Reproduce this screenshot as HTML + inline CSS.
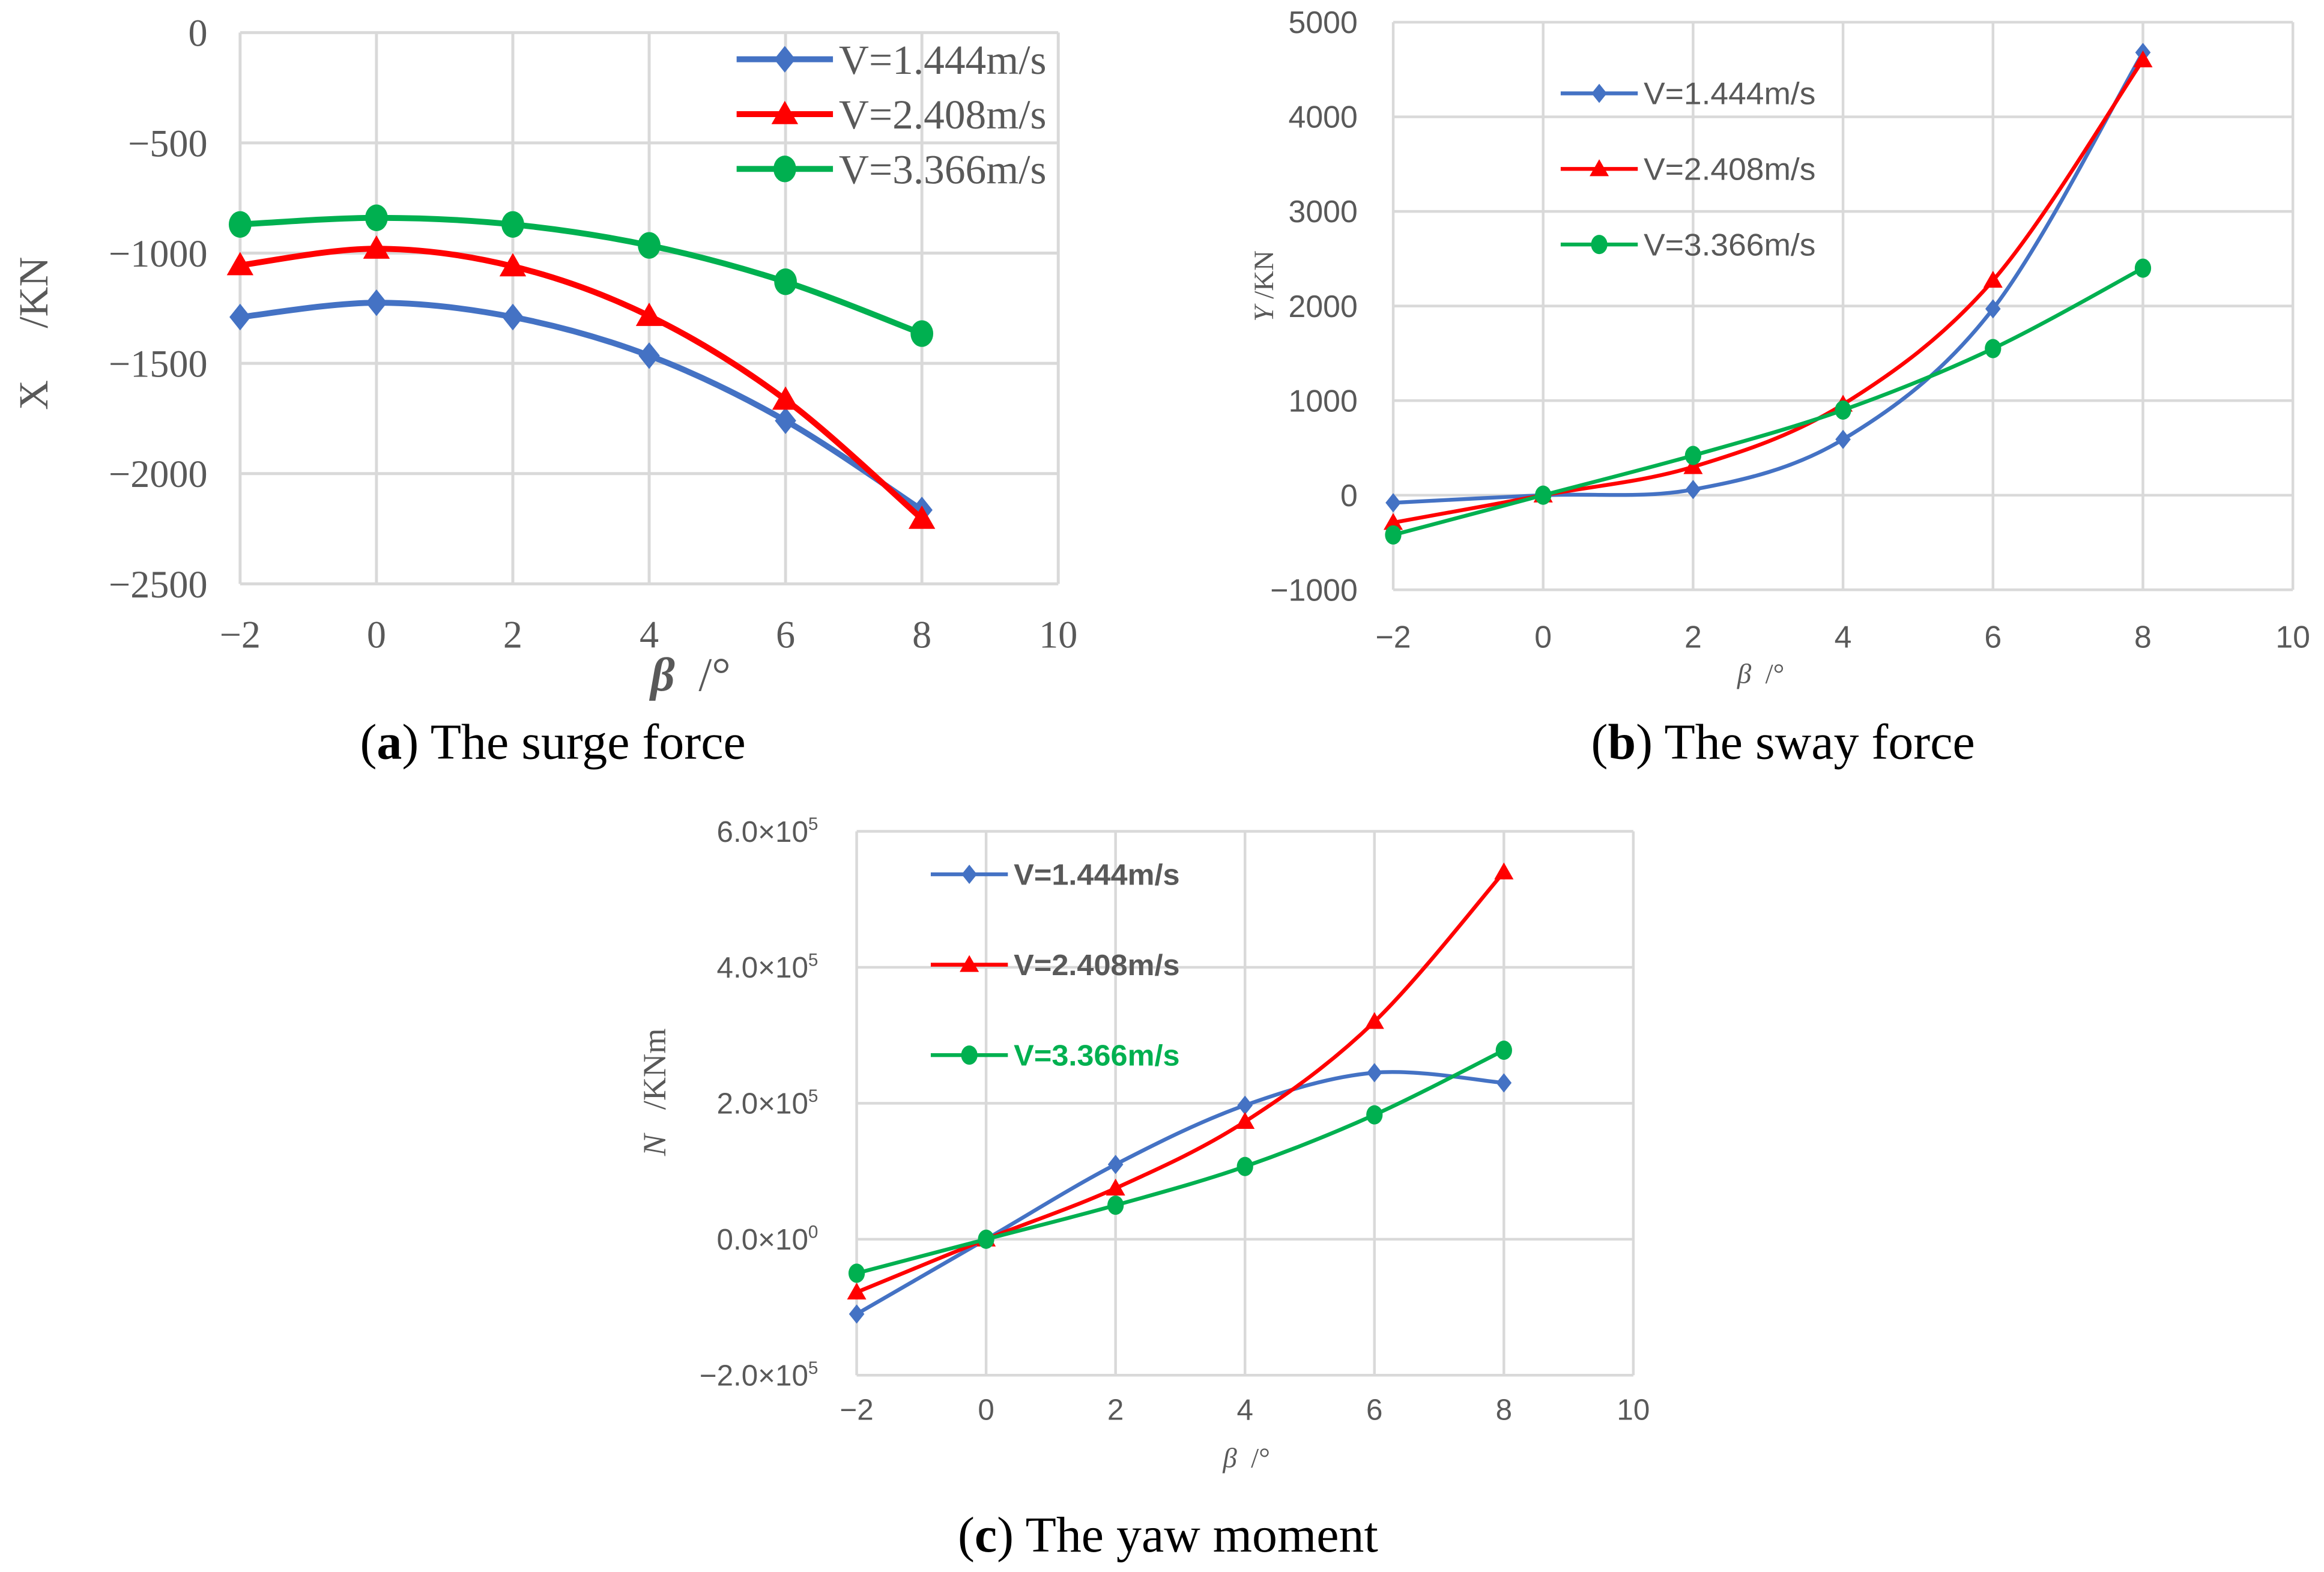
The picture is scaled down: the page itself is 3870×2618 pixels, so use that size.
<!DOCTYPE html>
<html><head><meta charset="utf-8">
<style>
html,body{margin:0;padding:0;background:#fff;}
svg{display:block;}
svg text{white-space:pre;}
</style></head>
<body>
<svg id="fig" xmlns="http://www.w3.org/2000/svg" width="3870" height="2618" viewBox="0 0 1568 1060.8" preserveAspectRatio="none">
<rect x="0" y="0" width="1568" height="1060.8" fill="#fff"/>
</svg>
<script>
// ---- shared data ----
const betaValues = [-2, 0, 2, 4, 6, 8];
const seriesLabels = ["V=1.444m/s", "V=2.408m/s", "V=3.366m/s"];
// chart (a) surge force X /KN
const surgeV1 = [-1290, -1225, -1290, -1465, -1760, -2165];
const surgeV2 = [-1055, -980, -1060, -1285, -1665, -2205];
const surgeV3 = [-870, -840, -870, -965, -1130, -1365];
const surgeYTicks = [0, -500, -1000, -1500, -2000, -2500];
// chart (b) sway force Y /KN
const swayV1 = [-80, 0, 60, 590, 1970, 4680];
const swayV2 = [-290, 0, 300, 960, 2270, 4600];
const swayV3 = [-420, 0, 420, 900, 1550, 2400];
const swayYTicks = [5000, 4000, 3000, 2000, 1000, 0, -1000];
// chart (c) yaw moment N /KNm (units of 1e5)
const yawV1 = [-1.1, 0, 1.1, 1.97, 2.45, 2.3];
const yawV2 = [-0.78, 0, 0.75, 1.73, 3.2, 5.4];
const yawV3 = [-0.5, 0, 0.5, 1.07, 1.83, 2.78];
const yawYTicks = [6, 4, 2, 0, -2];
const yawYTickLabels = ["6.0×10|5", "4.0×10|5", "2.0×10|5", "0.0×10|0", "−2.0×10|5"];
const xTicks = [-2, 0, 2, 4, 6, 8, 10];

const NS = "http://www.w3.org/2000/svg";
const svg = document.getElementById("fig");
const COLORS = ["#4472C4", "#FF0000", "#00B050"];
const GREY = "#595959";

function mk(tag, attrs, parent) {
  const e = document.createElementNS(NS, tag);
  for (const k in attrs) e.setAttribute(k, attrs[k]);
  (parent || svg).appendChild(e);
  return e;
}
function smoothPath(pts) {
  let d = "M" + pts[0][0] + "," + pts[0][1];
  const t = 1 / 6;
  for (let i = 0; i < pts.length - 1; i++) {
    const p0 = pts[i - 1] || pts[i], p1 = pts[i], p2 = pts[i + 1], p3 = pts[i + 2] || pts[i + 1];
    const c1 = [p1[0] + (p2[0] - p0[0]) * t, p1[1] + (p2[1] - p0[1]) * t];
    const c2 = [p2[0] - (p3[0] - p1[0]) * t, p2[1] - (p3[1] - p1[1]) * t];
    d += " C" + c1 + " " + c2 + " " + p2;
  }
  return d;
}
function marker(g, kind, x, y, s, color) {
  let m;
  if (kind === 0) m = mk("polygon", {points: `${x},${y - s} ${x + s * 0.8},${y} ${x},${y + s} ${x - s * 0.8},${y}`, fill: color}, g);
  else if (kind === 1) m = mk("polygon", {points: `${x},${y - s} ${x + s},${y + s * 0.75} ${x - s},${y + s * 0.75}`, fill: color}, g);
  else m = mk("ellipse", {cx: x, cy: y, rx: s * 0.85, ry: s, fill: color}, g);
  return m;
}

function drawChart(cfg) {
  const g = mk("g", {});
  
  
  const X = v => cfg.left + (v - (-2)) / 12 * (cfg.right - cfg.left);
  const Y = v => cfg.top + (cfg.yMax - v) / (cfg.yMax - cfg.yMin) * (cfg.bottom - cfg.top);
  const grid = mk("g", {}, g);
  
  
  cfg.yTicks.forEach(v => mk("line", {x1: cfg.left, x2: cfg.right, y1: Y(v), y2: Y(v), stroke: "#D9D9D9", "stroke-width": cfg.gw}, grid));
  xTicks.forEach(v => mk("line", {x1: X(v), x2: X(v), y1: cfg.top, y2: cfg.bottom, stroke: "#D9D9D9", "stroke-width": cfg.gw}, grid));
  cfg.yTicks.forEach((v, i) => {
    const t = mk("text", {x: cfg.left - cfg.ylOff, y: Y(v) + cfg.fs * 0.35, "text-anchor": "end", "font-family": cfg.font, "font-size": cfg.fs, fill: GREY}, g);
    
    
    if (cfg.yLabels) {
      const parts = cfg.yLabels[i].split("|");
      t.textContent = parts[0];
      const s = mk("tspan", {dy: -cfg.fs * 0.4, "font-size": cfg.fs * 0.6}, t);
      s.textContent = parts[1];
    } else {
      t.textContent = String(v).replace("-", "−");
    }
  });
  xTicks.forEach(v => {
    const t = mk("text", {x: X(v), y: cfg.xlY, "text-anchor": "middle", "font-family": cfg.font, "font-size": cfg.fs, fill: GREY}, g);
    
    
    t.textContent = String(v).replace("-", "−");
  });
  cfg.series.forEach((vals, si) => {
    const sg = mk("g", {}, g);
    
    
    const pts = vals.map((v, i) => [X(betaValues[i]), Y(v)]);
    const p = mk("path", {d: smoothPath(pts), fill: "none", stroke: COLORS[si], "stroke-width": cfg.lw, "stroke-linejoin": "round"}, sg);
    
    
    pts.forEach(pt => {
      const m = marker(sg, si, pt[0], pt[1], cfg.ms, COLORS[si]);
      
      
    });
  });
  const lg = mk("g", {}, g);
  
  
  seriesLabels.forEach((lab, si) => {
    const y = cfg.legY[si];
    const eg = mk("g", {}, lg);
    
    
    mk("line", {x1: cfg.legX1, x2: cfg.legX2, y1: y, y2: y, stroke: COLORS[si], "stroke-width": cfg.lw}, eg);
    marker(eg, si, (cfg.legX1 + cfg.legX2) / 2, y, cfg.ms, COLORS[si]);
    const t = mk("text", {x: cfg.legX2 + 4, y: y + cfg.lfs * 0.35, "font-family": cfg.font, "font-size": cfg.lfs, "font-weight": cfg.legBold ? "bold" : "normal", fill: cfg.legColors ? cfg.legColors[si] : GREY, textLength: cfg.legW, lengthAdjust: "spacingAndGlyphs"}, eg);
    t.textContent = lab;
  });
  const yt = mk("text", {x: 0, y: 0, transform: `translate(${cfg.ytX},${cfg.ytY}) rotate(-90)`, "text-anchor": "middle", "font-family": cfg.ytFont, "font-size": cfg.ytFs, fill: GREY}, g);
  
  
  const yi = mk("tspan", {"font-style": cfg.ytItalic ? "italic" : "normal"}, yt);
  yi.textContent = cfg.ytVar;
  const yr = mk("tspan", {}, yt);
  yr.textContent = cfg.ytUnit;
  const xt = mk("text", {x: cfg.xtX, y: cfg.xtY, "text-anchor": "middle", "font-family": "Liberation Serif, serif", "font-size": cfg.xtFs, fill: GREY}, g);
  
  
  const xb = mk("tspan", {"font-style": "italic", "font-weight": cfg.xtBold ? "bold" : "normal"}, xt);
  xb.textContent = "β";
  const xu = mk("tspan", {}, xt);
  xu.textContent = "  /°";
  const c = mk("text", {x: cfg.capX, y: cfg.capY, "text-anchor": "middle", "font-family": "Liberation Serif, serif", "font-size": 34, fill: "#000"}, g);
  
  
  const c1 = mk("tspan", {}, c); c1.textContent = "(";
  const c2 = mk("tspan", {"font-weight": "bold"}, c); c2.textContent = cfg.capLetter;
  const c3 = mk("tspan", {}, c); c3.textContent = ") " + cfg.capText;
}

drawChart({name: "surge-force-chart", left: 162, right: 714, top: 22, bottom: 394, yMax: 0, yMin: -2500,
  yTicks: surgeYTicks, gw: 2, lw: 4, ms: 9, font: "Liberation Serif, serif", fs: 26, ylOff: 22, xlY: 437,
  series: [surgeV1, surgeV2, surgeV3], legX1: 497, legX2: 562, legY: [40, 77, 114], lfs: 28, legW: 140, legBold: false,
  ytX: 32, ytY: 225, ytFont: "Liberation Serif, serif", ytFs: 28, ytItalic: false, ytVar: "X", ytUnit: "     /KN",
  xtX: 466, xtY: 466, xtFs: 32, xtBold: true, capX: 373, capY: 512, capLetter: "a", capText: "The surge force"});

drawChart({name: "sway-force-chart", left: 940, right: 1547, top: 15, bottom: 398, yMax: 5000, yMin: -1000,
  yTicks: swayYTicks, gw: 1.8, lw: 2.6, ms: 6.5, font: "Liberation Sans, sans-serif", fs: 21, ylOff: 24, xlY: 437,
  series: [swayV1, swayV2, swayV3], legX1: 1053, legX2: 1105, legY: [63, 114, 165], lfs: 21, legW: 116, legBold: false,
  ytX: 859, ytY: 193, ytFont: "Liberation Serif, serif", ytFs: 19, ytItalic: true, ytVar: "Y", ytUnit: " /KN",
  xtX: 1188, xtY: 461, xtFs: 19, xtBold: false, capX: 1203, capY: 512, capLetter: "b", capText: "The sway force"});

drawChart({name: "yaw-moment-chart", left: 578, right: 1102, top: 561, bottom: 928, yMax: 6, yMin: -2,
  yTicks: yawYTicks, yLabels: yawYTickLabels, gw: 1.8, lw: 2.6, ms: 6.5, font: "Liberation Sans, sans-serif", fs: 20, ylOff: 26, xlY: 958,
  series: [yawV1, yawV2, yawV3], legX1: 628, legX2: 680, legY: [590, 651, 712], lfs: 20, legW: 112, legBold: true,
  legColors: [GREY, GREY, "#00B050"],
  ytX: 449, ytY: 737, ytFont: "Liberation Serif, serif", ytFs: 22, ytItalic: true, ytVar: "N", ytUnit: "   /KNm",
  xtX: 841, xtY: 990, xtFs: 19, xtBold: false, capX: 788, capY: 1047, capLetter: "c", capText: "The yaw moment"});
</script>
</body></html>
